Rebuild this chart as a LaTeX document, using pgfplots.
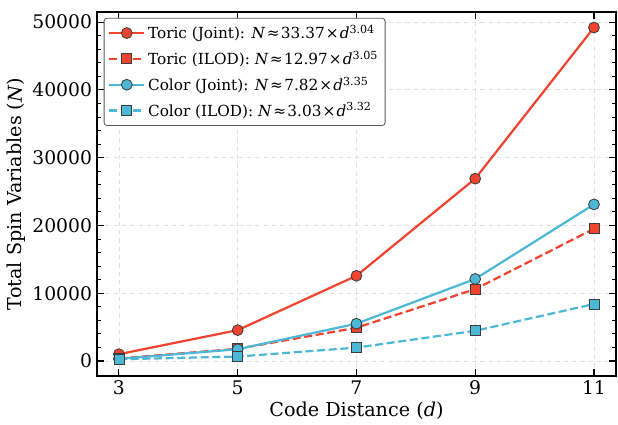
\documentclass[border=0pt]{standalone}
\usepackage{fontspec}
\setmainfont{DejaVu Serif}
\usepackage{pgfplots}
\pgfplotsset{compat=1.18}

\definecolor{tred}{RGB}{240,68,48}
\definecolor{cblue}{RGB}{77,184,214}
\definecolor{edgegray}{RGB}{60,60,60}

\begin{document}
\begin{tikzpicture}
\begin{axis}[
  scale only axis,
  width=373.6pt, height=262pt,
  xmin=2.63, xmax=11.37,
  ymin=-2200, ymax=51500,
  xtick={3,5,7,9,11},
  xticklabels={3,5,7,9,11},
  ytick={0,10000,20000,30000,40000,50000},
  yticklabels={0,10000,20000,30000,40000,50000},
  scaled y ticks=false,
  minor y tick num=4,
  tick align=inside,
  major tick length=5pt,
  minor tick length=3pt,
  tick style={black, line width=0.8pt},
  minor tick style={black, line width=0.6pt},
  axis line style={line width=0.9pt},
  grid=major,
  major grid style={dashed, gray!25, line width=0.6pt},
  tick label style={font=\fontsize{13.5}{15}\selectfont},
  xlabel={Code Distance (\textit{d})},
  ylabel={Total Spin Variables (\textit{N})},
  every axis x label/.style={at={(axis description cs:0.5,0)}, yshift=-29.5pt,
    anchor=base, font=\fontsize{13.8}{16}\selectfont},
  every axis y label/.style={at={(axis description cs:0,0.5)}, xshift=-54pt,
    rotate=90, anchor=base, font=\fontsize{13.8}{16}\selectfont},
  legend cell align=left,
  legend style={at={(0.013,0.984)}, anchor=north west,
    draw=gray!70!black, rounded corners=2pt, line width=0.6pt,
    font=\fontsize{11}{13}\selectfont, row sep=3.2pt,
    inner sep=3pt},
  legend image code/.code={
    \draw[mark repeat=2,mark phase=2,#1] plot coordinates {(0cm,0cm)(0.44cm,0cm)(0.88cm,0cm)};
  },
  every axis plot/.append style={line width=1.6pt},
]
\addplot[color=tred, mark=*, mark size=3.9pt,
  mark options={solid, fill=tred, draw=edgegray, line width=0.6pt}]
  coordinates {(3,1000)(5,4550)(7,12570)(9,26900)(11,49200)};
\addlegendentry{Toric (Joint): \textit{N}\kern1pt≈\kern1pt33.37\kern0.8pt×\kern0.8pt\textit{d}\textsuperscript{\fontsize{8}{9}\selectfont 3.04}}
\addplot[color=tred, dash pattern=on 5.8pt off 2.6pt, mark=square*, mark size=3.6pt,
  mark options={solid, fill=tred, draw=edgegray, line width=0.6pt}]
  coordinates {(3,370)(5,1800)(7,4900)(9,10600)(11,19500)};
\addlegendentry{Toric (ILOD): \textit{N}\kern1pt≈\kern1pt12.97\kern0.8pt×\kern0.8pt\textit{d}\textsuperscript{\fontsize{8}{9}\selectfont 3.05}}
\addplot[color=cblue, mark=*, mark size=3.9pt,
  mark options={solid, fill=cblue, draw=edgegray, line width=0.6pt}]
  coordinates {(3,310)(5,1730)(7,5500)(9,12100)(11,23100)};
\addlegendentry{Color (Joint): \textit{N}\kern1pt≈\kern1pt7.82\kern0.8pt×\kern0.8pt\textit{d}\textsuperscript{\fontsize{8}{9}\selectfont 3.35}}
\addplot[color=cblue, dash pattern=on 5.8pt off 2.6pt, mark=square*, mark size=3.6pt,
  mark options={solid, fill=cblue, draw=edgegray, line width=0.6pt}]
  coordinates {(3,250)(5,650)(7,1970)(9,4450)(11,8400)};
\addlegendentry{Color (ILOD): \textit{N}\kern1pt≈\kern1pt3.03\kern0.8pt×\kern0.8pt\textit{d}\textsuperscript{\fontsize{8}{9}\selectfont 3.32}}
\end{axis}
\path ([xshift=-69.8pt]current axis.west) ([xshift=1.5pt]current axis.east)
      ([yshift=8.6pt]current axis.north) ([yshift=-34.6pt]current axis.south);
\end{tikzpicture}
\end{document}
